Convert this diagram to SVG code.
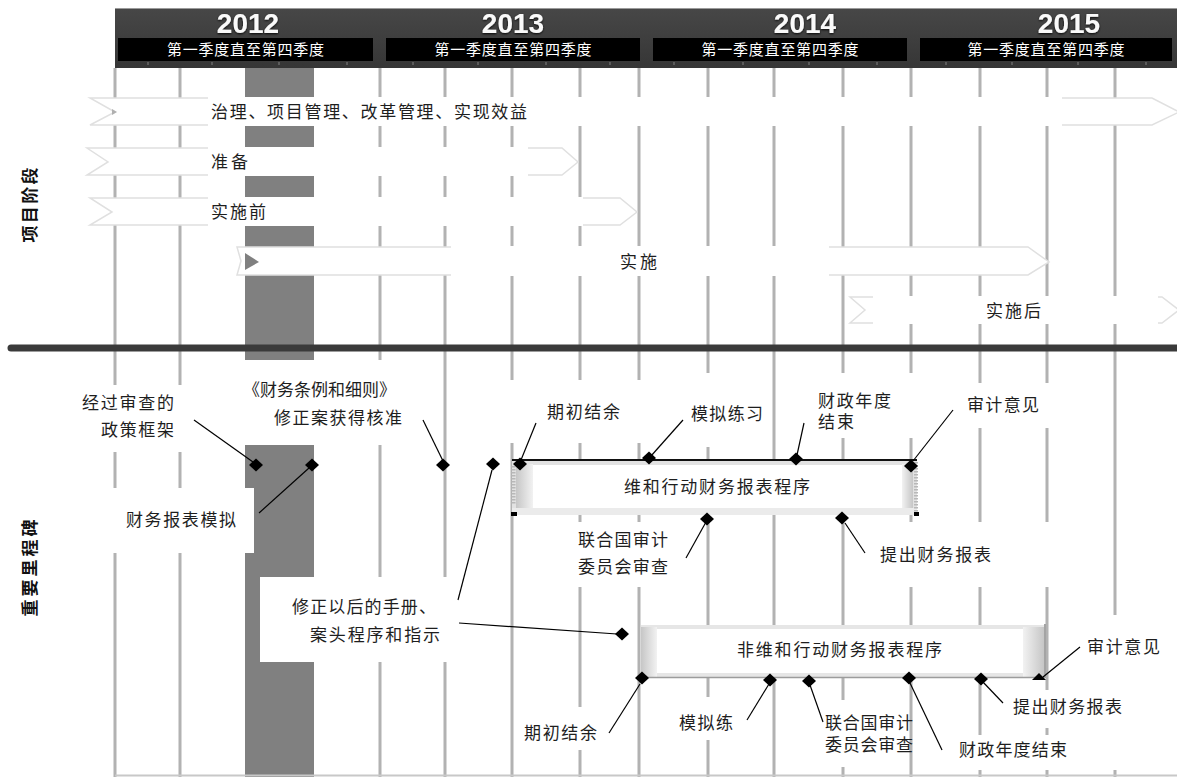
<svg xmlns="http://www.w3.org/2000/svg" width="1177" height="777" viewBox="0 0 1177 777">
<style>
.vl{stroke:#b2b2b2;stroke-width:3}
.wb{fill:#fff}
.t{font-family:"Liberation Serif","Noto Sans CJK SC",serif;font-size:17px;fill:#1e1e1e}
.q{font-family:"Liberation Serif","Noto Sans CJK SC",serif;font-size:15px;fill:#fff}
.yr{font-family:"Liberation Sans",Arial,sans-serif;font-weight:bold;font-size:28px;fill:#fafafa;text-anchor:middle}
.side{font-family:"Liberation Sans","Noto Sans CJK SC",sans-serif;font-weight:bold;font-size:17px;fill:#111;text-anchor:middle}
.ld{stroke:#000;stroke-width:1.2;fill:none}
.dm{fill:#000}
.arr{fill:#fff;stroke:#e0e0e0;stroke-width:1.5}
.tick{stroke:#6a6a6a;stroke-width:1.5}
</style>
<defs>
<linearGradient id="band" x1="0" y1="0" x2="0" y2="1"><stop offset="0" stop-color="#474747"/><stop offset="1" stop-color="#363636"/></linearGradient>
<linearGradient id="gl" x1="0" y1="0" x2="1" y2="0"><stop offset="0" stop-color="#c6c6c6"/><stop offset="1" stop-color="#f2f2f2"/></linearGradient>
<linearGradient id="gr" x1="0" y1="0" x2="1" y2="0"><stop offset="0" stop-color="#f2f2f2"/><stop offset="1" stop-color="#c6c6c6"/></linearGradient>
<filter id="sh" x="-20%" y="-40%" width="140%" height="180%"><feDropShadow dx="0" dy="1" stdDeviation="1.2" flood-color="#000" flood-opacity="0.9"/></filter>
<path id="dia" d="M0,-6.5 L7,0 L0,6.5 L-7,0 Z"/>
</defs>
<rect x="0" y="0" width="1177" height="777" fill="#fff"/>

<g id="grid">
<rect x="245" y="68" width="69" height="709" fill="#808080"/>
<g class="vl">
<line x1="115" y1="68" x2="115" y2="777"/>
<line x1="180" y1="68" x2="180" y2="777"/>
<line x1="380" y1="68" x2="380" y2="777"/>
<line x1="445" y1="68" x2="445" y2="777"/>
<line x1="512" y1="68" x2="512" y2="777"/>
<line x1="580" y1="68" x2="580" y2="777"/>
<line x1="639" y1="68" x2="639" y2="777"/>
<line x1="708" y1="68" x2="708" y2="777"/>
<line x1="774" y1="68" x2="774" y2="777"/>
<line x1="843" y1="68" x2="843" y2="777"/>
<line x1="911" y1="68" x2="911" y2="777"/>
<line x1="980" y1="68" x2="980" y2="777"/>
<line x1="1047" y1="68" x2="1047" y2="777"/>
<line x1="1115" y1="68" x2="1115" y2="777"/>
</g>
<line x1="115" y1="775.5" x2="1177" y2="775.5" stroke="#c8c8c8" stroke-width="2"/>
</g>

<g id="header">
<rect x="115" y="8" width="1062" height="60" fill="url(#band)"/>
<line x1="115" y1="8.5" x2="1177" y2="8.5" stroke="#9a9a9a" stroke-width="1"/>
<text class="yr" x="248" y="33" filter="url(#sh)">2012</text>
<text class="yr" x="513" y="33" filter="url(#sh)">2013</text>
<text class="yr" x="805" y="33" filter="url(#sh)">2014</text>
<text class="yr" x="1069" y="33" filter="url(#sh)">2015</text>
<rect x="118" y="38" width="255" height="23" fill="#000"/>
<rect x="386" y="38" width="254" height="23" fill="#000"/>
<rect x="653" y="38" width="254" height="23" fill="#000"/>
<rect x="920" y="38" width="252" height="23" fill="#000"/>
<text class="q" x="167" y="55" textLength="157">第一季度直至第四季度</text>
<text class="q" x="434.5" y="55" textLength="157">第一季度直至第四季度</text>
<text class="q" x="701.5" y="55" textLength="157">第一季度直至第四季度</text>
<text class="q" x="967.5" y="55" textLength="157">第一季度直至第四季度</text>
<g class="tick">
<line x1="148" y1="62" x2="148" y2="65"/><line x1="212" y1="62" x2="212" y2="65"/>
<line x1="279" y1="62" x2="279" y2="65"/><line x1="347" y1="62" x2="347" y2="65"/>
<line x1="413" y1="62" x2="413" y2="65"/><line x1="478" y1="62" x2="478" y2="65"/>
<line x1="546" y1="62" x2="546" y2="65"/><line x1="610" y1="62" x2="610" y2="65"/>
<line x1="674" y1="62" x2="674" y2="65"/><line x1="743" y1="62" x2="743" y2="65"/>
<line x1="809" y1="62" x2="809" y2="65"/><line x1="877" y1="62" x2="877" y2="65"/>
<line x1="946" y1="62" x2="946" y2="65"/><line x1="1012" y1="62" x2="1012" y2="65"/>
<line x1="1078" y1="62" x2="1078" y2="65"/><line x1="1146" y1="62" x2="1146" y2="65"/>
</g>
</g>

<g id="side-labels">
<text class="side" transform="translate(36,205) rotate(-90)" textLength="75">项目阶段</text>
<text class="side" transform="translate(36,568) rotate(-90)" textLength="97">重要里程碑</text>
</g>

<g id="phase-governance">
<path class="arr" d="M90,98 L1152,98 L1179,112 L1152,125 L90,125 L115,112 Z"/>
<rect class="wb" x="208" y="97" width="854" height="29"/>
<path d="M112,109 L117,112 L112,115 Z" fill="#b0b0b0"/>
<text class="t" x="211" y="118" textLength="316">治理、项目管理、改革管理、实现效益</text>
</g>
<g id="phase-preparation">
<path class="arr" d="M87,148 L562,148 L578,162 L562,175 L87,175 L108,162 Z"/>
<rect class="wb" x="208" y="147" width="320" height="29"/>
<text class="t" x="211" y="168" textLength="37">准备</text>
</g>
<g id="phase-pre-implementation">
<path class="arr" d="M90,198 L620,198 L637,212 L620,225 L90,225 L112,212 Z"/>
<rect class="wb" x="208" y="197" width="375" height="29"/>
<text class="t" x="211" y="218" textLength="55">实施前</text>
</g>
<g id="phase-implementation">
<path class="arr" d="M237,247 L1028,247 L1049,262 L1028,275 L237,275 L241,261 Z"/>
<rect class="wb" x="451" y="246" width="378" height="30"/>
<path d="M245,253 L259,262 L245,270 Z" fill="#808080"/>
<text class="t" x="620" y="268" textLength="37">实施</text>
</g>
<g id="phase-post-implementation">
<path class="arr" d="M850,297 L1162,297 L1179,310 L1162,323 L850,323 L865,310 Z"/>
<rect class="wb" x="873" y="296" width="285" height="28"/>
<text class="t" x="986" y="317" textLength="55">实施后</text>
</g>

<g id="separator">
<line x1="11" y1="348" x2="1177" y2="348" stroke="#3a3a3a" stroke-width="7" stroke-linecap="round"/>
</g>

<g id="label-backgrounds" class="wb">
<rect x="75" y="385" width="115" height="67"/>
<rect x="240" y="360" width="180" height="85"/>
<rect x="100" y="488" width="154" height="65"/>
<rect x="260" y="577" width="187" height="85"/>
<rect x="505" y="380" width="145" height="63"/>
<rect x="660" y="373" width="110" height="74"/>
<rect x="795" y="373" width="125" height="65"/>
<rect x="950" y="383" width="110" height="45"/>
<rect x="570" y="522" width="105" height="65"/>
<rect x="855" y="522" width="205" height="65"/>
<rect x="515" y="707" width="90" height="43"/>
<rect x="670" y="697" width="70" height="43"/>
<rect x="815" y="700" width="90" height="67"/>
<rect x="950" y="735" width="125" height="35"/>
<rect x="1005" y="690" width="125" height="38"/>
<rect x="1060" y="615" width="117" height="155"/>
</g>

<g id="peacekeeping-process">
<rect x="512" y="460" width="405" height="55" fill="#e2e2e2"/>
<rect x="516" y="464" width="17" height="44" fill="url(#gl)"/>
<rect x="902" y="464" width="11" height="44" fill="url(#gr)"/>
<rect x="533" y="465" width="369" height="43" fill="#fff"/>
<rect x="512" y="508" width="405" height="7" fill="#ebebeb"/>
<line x1="513.5" y1="466" x2="513.5" y2="505" stroke="#b8b8b8" stroke-width="4" stroke-dasharray="1.5 1.5"/>
<line x1="916" y1="462" x2="916" y2="512" stroke="#b8b8b8" stroke-width="4" stroke-dasharray="1.5 1.5"/>
<line x1="512" y1="460" x2="917" y2="460" stroke="#111" stroke-width="2.2"/>
<rect x="511" y="512" width="6" height="4" fill="#000"/>
<rect x="914" y="512" width="5" height="4" fill="#000"/>
<text class="t" x="624" y="493" textLength="186">维和行动财务报表程序</text>
</g>

<g id="non-peacekeeping-process">
<rect x="641" y="625" width="404" height="53" fill="#e6e6e6"/>
<rect x="641" y="627" width="16" height="50" fill="url(#gl)"/>
<rect x="1023" y="627" width="21" height="50" fill="url(#gr)"/>
<rect x="657" y="629" width="366" height="44" fill="#fff"/>
<line x1="641" y1="677.5" x2="1045" y2="677.5" stroke="#9c9c9c" stroke-width="1.5"/>
<line x1="1045" y1="624" x2="1045" y2="678" stroke="#a4a4a4" stroke-width="2"/>
<text class="t" x="737" y="656" textLength="205">非维和行动财务报表程序</text>
</g>

<g id="connectors" class="ld">
<line x1="194" y1="420" x2="253" y2="462"/>
<line x1="259" y1="513" x2="309" y2="468"/>
<line x1="423" y1="420" x2="443" y2="461"/>
<line x1="536" y1="423" x2="521" y2="460"/>
<line x1="492" y1="470" x2="458" y2="600"/>
<line x1="459" y1="623" x2="617" y2="634"/>
<line x1="683" y1="420" x2="651" y2="456"/>
<line x1="804" y1="423" x2="797" y2="455"/>
<line x1="953" y1="410" x2="913" y2="461"/>
<line x1="706" y1="522" x2="686" y2="558"/>
<line x1="845" y1="523" x2="865" y2="553"/>
<line x1="609" y1="733" x2="640" y2="684"/>
<line x1="747" y1="720" x2="769" y2="684"/>
<line x1="823" y1="722" x2="810" y2="685"/>
<line x1="942" y1="750" x2="910" y2="683"/>
<line x1="1003" y1="703" x2="982" y2="681"/>
<line x1="1080" y1="647" x2="1043" y2="677"/>
</g>

<g id="milestone-markers" class="dm">
<use href="#dia" x="256" y="465"/>
<use href="#dia" x="312" y="465"/>
<use href="#dia" x="443" y="465"/>
<use href="#dia" x="493" y="464"/>
<use href="#dia" x="520" y="464"/>
<use href="#dia" x="649" y="458"/>
<use href="#dia" x="796" y="459"/>
<use href="#dia" x="911" y="466"/>
<use href="#dia" x="707" y="519"/>
<use href="#dia" x="842" y="518"/>
<use href="#dia" x="622" y="634"/>
<use href="#dia" x="642" y="678"/>
<use href="#dia" x="770" y="680"/>
<use href="#dia" x="809" y="681"/>
<use href="#dia" x="909" y="678"/>
<use href="#dia" x="981" y="679"/>
<path d="M1032,680 L1039,673 L1046,680 Z"/>
</g>

<g id="milestone-labels">
<text class="t" x="82" y="409" textLength="92">经过审查的</text>
<text class="t" x="101" y="436" textLength="73">政策框架</text>
<text class="t" x="243" y="396" textLength="153">《财务条例和细则》</text>
<text class="t" x="274" y="424" textLength="128">修正案获得核准</text>
<text class="t" x="126" y="526" textLength="110">财务报表模拟</text>
<text class="t" x="547" y="418" textLength="73">期初结余</text>
<text class="t" x="691" y="420" textLength="72">模拟练习</text>
<text class="t" x="818" y="407" textLength="73">财政年度</text>
<text class="t" x="818" y="428" textLength="36">结束</text>
<text class="t" x="967" y="411" textLength="72">审计意见</text>
<text class="t" x="578" y="546" textLength="90">联合国审计</text>
<text class="t" x="578" y="573" textLength="90">委员会审查</text>
<text class="t" x="880" y="561" textLength="111">提出财务报表</text>
<text class="t" x="292" y="613" textLength="144">修正以后的手册、</text>
<text class="t" x="310" y="641" textLength="130">案头程序和指示</text>
<text class="t" x="524" y="739" textLength="73">期初结余</text>
<text class="t" x="679" y="729" textLength="54">模拟练</text>
<text class="t" x="825" y="729" textLength="88">联合国审计</text>
<text class="t" x="825" y="751" textLength="88">委员会审查</text>
<text class="t" x="959" y="756" textLength="108">财政年度结束</text>
<text class="t" x="1013" y="713" textLength="109">提出财务报表</text>
<text class="t" x="1087" y="653" textLength="73">审计意见</text>
</g>
</svg>
